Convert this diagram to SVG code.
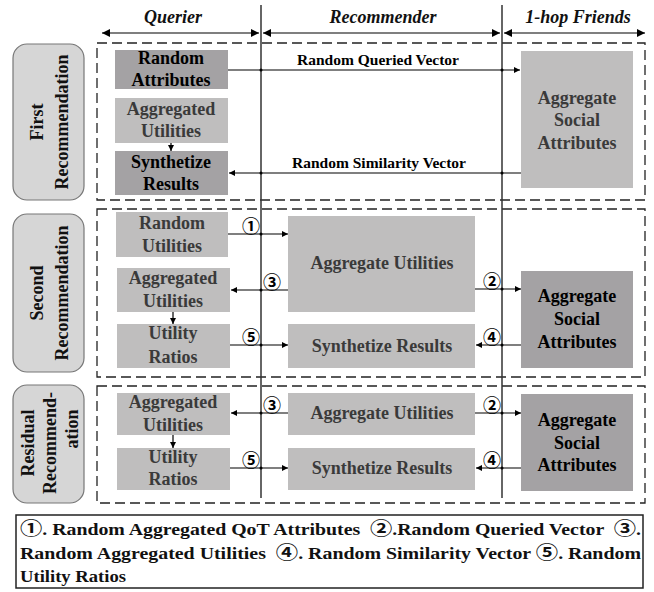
<svg xmlns="http://www.w3.org/2000/svg" width="654" height="592" viewBox="0 0 654 592">
<style>
text{font-family:"Liberation Serif","Noto Sans CJK SC",serif;font-weight:bold}
.hdr{font-size:18px;font-style:italic;text-anchor:middle;fill:#111}
.nt{font-size:18px;text-anchor:middle}
.lt{fill:#3a3a3a}
.dk{fill:#000}
.lb{font-size:18px;text-anchor:middle;fill:#111}
.vl{font-size:15.5px;text-anchor:middle;fill:#000}
.num{font-family:"Noto Sans CJK SC","DejaVu Sans",sans-serif;font-size:18px;font-weight:bold;text-anchor:middle;fill:#000}
.cn{font-family:"Noto Sans CJK SC","DejaVu Sans",sans-serif;font-size:18px;font-weight:bold}
.leg{font-size:16px;fill:#111}
.light{fill:#bfbebe}
.dark{fill:#a4a2a4}
.dash{fill:none;stroke:#222;stroke-width:1.3;stroke-dasharray:10 5}
.side{fill:#d6d6d6;stroke:#777;stroke-width:1.2}
.ln{stroke:#000;stroke-width:1.2;fill:none}
.vline{stroke:#333;stroke-width:1.5}
</style>
<defs>
<marker id="ah" viewBox="0 0 10 10" refX="10" refY="5" markerWidth="7" markerHeight="6" markerUnits="userSpaceOnUse" orient="auto-start-reverse">
<path d="M0,0 L10,5 L0,10 z" fill="#000"/>
</marker>
<marker id="hh" viewBox="0 0 10 10" refX="10" refY="5" markerWidth="10" markerHeight="8" markerUnits="userSpaceOnUse" orient="auto-start-reverse">
<path d="M0,0 L10,5 L0,10 z" fill="#000"/>
</marker>
</defs>
<rect width="654" height="592" fill="#fff"/>

<g id="headers">
<text class="hdr" x="173" y="23">Querier</text>
<text class="hdr" x="383" y="23">Recommender</text>
<text class="hdr" x="578" y="23">1-hop Friends</text>
<line class="ln" x1="102" y1="33" x2="259" y2="33" marker-start="url(#hh)" marker-end="url(#hh)"/>
<line class="ln" x1="263" y1="33" x2="500" y2="33" marker-start="url(#hh)" marker-end="url(#hh)"/>
<line class="ln" x1="504" y1="33" x2="645" y2="33" marker-start="url(#hh)" marker-end="url(#hh)"/>
</g>

<g id="sections">
<rect class="dash" x="97" y="43" width="548" height="157"/>
<rect class="dash" x="97" y="209" width="548" height="168"/>
<rect class="dash" x="97" y="386" width="548" height="117"/>
</g>

<g id="side-first">
<rect class="side" x="13" y="44" width="71" height="156" rx="14"/>
<text class="lb" transform="translate(43,122) rotate(-90)">First</text>
<text class="lb" transform="translate(68,122) rotate(-90)">Recommendation</text>
</g>
<g id="side-second">
<rect class="side" x="13" y="214" width="71" height="158" rx="14"/>
<text class="lb" transform="translate(43,293) rotate(-90)">Second</text>
<text class="lb" transform="translate(68,293) rotate(-90)">Recommendation</text>
</g>
<g id="side-residual">
<rect class="side" x="13" y="385" width="71" height="118" rx="14"/>
<text class="lb" transform="translate(34,443) rotate(-90)">Residual</text>
<text class="lb" transform="translate(56,443) rotate(-90)">Recommend-</text>
<text class="lb" transform="translate(78,429) rotate(-90)">ation</text>
</g>

<g id="vertical-lines">
<line class="vline" x1="261" y1="5" x2="261" y2="498"/>
<line class="vline" x1="502" y1="5" x2="502" y2="498"/>
</g>

<g id="n-random-attributes">
<rect class="dark" x="115" y="50" width="113" height="39"/>
<text class="nt dk" x="171" y="64">Random</text>
<text class="nt dk" x="171" y="86">Attributes</text>
</g>
<g id="n-aggregated-utilities-1">
<rect class="light" x="115" y="98" width="113" height="45"/>
<text class="nt lt" x="171" y="115">Aggregated</text>
<text class="nt lt" x="171" y="137">Utilities</text>
</g>
<g id="n-synthetize-results-1">
<rect class="dark" x="115" y="151" width="113" height="44"/>
<text class="nt dk" x="171" y="168">Synthetize</text>
<text class="nt dk" x="171" y="190">Results</text>
</g>
<g id="n-aggregate-social-1">
<rect class="light" x="521" y="51" width="112" height="137"/>
<text class="nt lt" x="577" y="104">Aggregate</text>
<text class="nt lt" x="577" y="126">Social</text>
<text class="nt lt" x="577" y="149">Attributes</text>
</g>

<g id="n-random-utilities-2">
<rect class="light" x="116" y="212" width="112" height="45"/>
<text class="nt lt" x="172" y="229">Random</text>
<text class="nt lt" x="172" y="252">Utilities</text>
</g>
<g id="n-aggregated-utilities-2">
<rect class="light" x="117" y="268" width="113" height="44"/>
<text class="nt lt" x="173" y="284">Aggregated</text>
<text class="nt lt" x="173" y="307">Utilities</text>
</g>
<g id="n-utility-ratios-2">
<rect class="light" x="117" y="324" width="113" height="44"/>
<text class="nt lt" x="173" y="339">Utility</text>
<text class="nt lt" x="173" y="363">Ratios</text>
</g>
<g id="n-aggregate-utilities-2">
<rect class="light" x="288" y="216" width="187" height="96"/>
<text class="nt lt" x="382" y="269">Aggregate Utilities</text>
</g>
<g id="n-synthetize-results-2">
<rect class="light" x="288" y="324" width="187" height="44"/>
<text class="nt lt" x="382" y="352">Synthetize Results</text>
</g>
<g id="n-aggregate-social-2">
<rect class="dark" x="521" y="271" width="112" height="97"/>
<text class="nt dk" x="577" y="302">Aggregate</text>
<text class="nt dk" x="577" y="325">Social</text>
<text class="nt dk" x="577" y="348">Attributes</text>
</g>

<g id="n-aggregated-utilities-3">
<rect class="light" x="117" y="393" width="113" height="42"/>
<text class="nt lt" x="173" y="408">Aggregated</text>
<text class="nt lt" x="173" y="431">Utilities</text>
</g>
<g id="n-utility-ratios-3">
<rect class="light" x="117" y="448" width="113" height="42"/>
<text class="nt lt" x="173" y="463">Utility</text>
<text class="nt lt" x="173" y="485">Ratios</text>
</g>
<g id="n-aggregate-utilities-3">
<rect class="light" x="288" y="393" width="187" height="42"/>
<text class="nt lt" x="382" y="419">Aggregate Utilities</text>
</g>
<g id="n-synthetize-results-3">
<rect class="light" x="288" y="448" width="187" height="42"/>
<text class="nt lt" x="382" y="474">Synthetize Results</text>
</g>
<g id="n-aggregate-social-3">
<rect class="dark" x="521" y="394" width="112" height="97"/>
<text class="nt dk" x="577" y="426">Aggregate</text>
<text class="nt dk" x="577" y="449">Social</text>
<text class="nt dk" x="577" y="471">Attributes</text>
</g>

<g id="connectors">
<line class="ln" x1="228" y1="70" x2="520" y2="70" marker-end="url(#ah)"/>
<text class="vl" x="378" y="65">Random Queried Vector</text>
<line class="ln" x1="521" y1="173" x2="229" y2="173" marker-end="url(#ah)"/>
<text class="vl" x="379" y="168">Random Similarity Vector</text>
<line class="ln" x1="171" y1="143" x2="171" y2="151" marker-end="url(#ah)"/>

<line class="ln" x1="228" y1="234" x2="288" y2="234" marker-end="url(#ah)"/>
<text class="num" x="251" y="233">①</text>
<line class="ln" x1="288" y1="290" x2="231" y2="290" marker-end="url(#ah)"/>
<text class="num" x="272" y="289">③</text>
<line class="ln" x1="230" y1="345" x2="288" y2="345" marker-end="url(#ah)"/>
<text class="num" x="251" y="344">⑤</text>
<line class="ln" x1="475" y1="289" x2="521" y2="289" marker-end="url(#ah)"/>
<text class="num" x="492" y="288">②</text>
<line class="ln" x1="521" y1="345" x2="476" y2="345" marker-end="url(#ah)"/>
<text class="num" x="492" y="344">④</text>
<line class="ln" x1="173" y1="312" x2="173" y2="324" marker-end="url(#ah)"/>

<line class="ln" x1="288" y1="413" x2="231" y2="413" marker-end="url(#ah)"/>
<text class="num" x="272" y="412">③</text>
<line class="ln" x1="230" y1="468" x2="288" y2="468" marker-end="url(#ah)"/>
<text class="num" x="251" y="467">⑤</text>
<line class="ln" x1="475" y1="413" x2="521" y2="413" marker-end="url(#ah)"/>
<text class="num" x="492" y="412">②</text>
<line class="ln" x1="521" y1="468" x2="476" y2="468" marker-end="url(#ah)"/>
<text class="num" x="492" y="467">④</text>
<line class="ln" x1="173" y1="435" x2="173" y2="448" marker-end="url(#ah)"/>

<g fill="#000">
<circle cx="261" cy="70" r="1.5"/><circle cx="502" cy="70" r="1.5"/>
<circle cx="261" cy="173" r="1.5"/><circle cx="502" cy="173" r="1.5"/>
<circle cx="261" cy="234" r="1.5"/><circle cx="261" cy="290" r="1.5"/><circle cx="261" cy="345" r="1.5"/>
<circle cx="502" cy="289" r="1.5"/><circle cx="502" cy="345" r="1.5"/>
<circle cx="261" cy="413" r="1.5"/><circle cx="261" cy="468" r="1.5"/>
<circle cx="502" cy="413" r="1.5"/><circle cx="502" cy="468" r="1.5"/>
</g>
</g>

<g id="legend">
<rect x="16" y="515" width="627" height="73" fill="#fff" stroke="#222" stroke-width="1.5"/>
<text class="leg" x="20" y="535" textLength="621" lengthAdjust="spacingAndGlyphs" xml:space="preserve"><tspan class="cn">①</tspan>. Random Aggregated QoT Attributes  <tspan class="cn">②</tspan>.Random Queried Vector  <tspan class="cn">③</tspan>.</text>
<text class="leg" x="20" y="559" textLength="621" lengthAdjust="spacingAndGlyphs" xml:space="preserve">Random Aggregated Utilities  <tspan class="cn">④</tspan>. Random Similarity Vector <tspan class="cn">⑤</tspan>. Random</text>
<text class="leg" x="20" y="582" textLength="106" lengthAdjust="spacingAndGlyphs">Utility Ratios</text>
</g>
</svg>
